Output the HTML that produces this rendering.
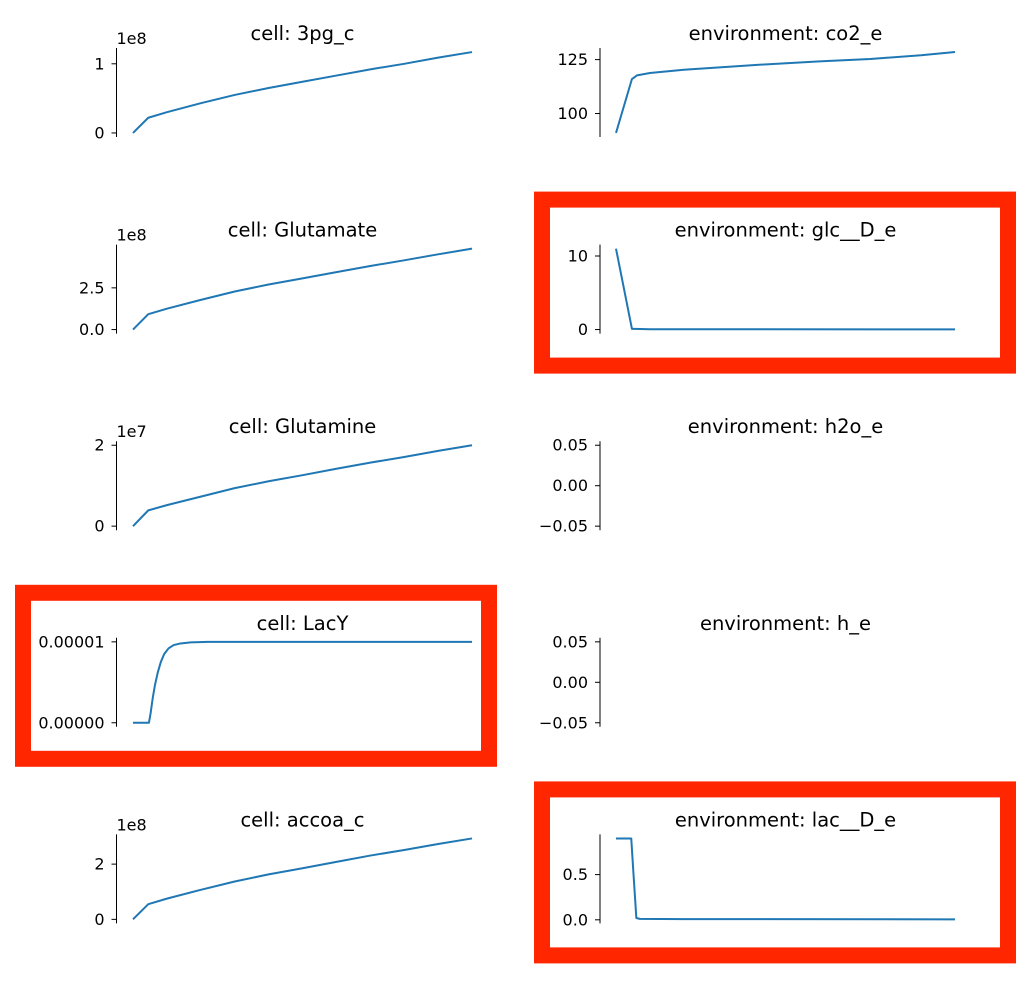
<!DOCTYPE html>
<html><head><meta charset="utf-8"><style>
body{margin:0;background:#fff;}
svg{display:block;font-family:"DejaVu Sans","Liberation Sans",sans-serif;}
</style></head><body>
<svg id="fig" width="1031" height="993" viewBox="0 0 1031 993"></svg>
<script>
const NS='http://www.w3.org/2000/svg';
// shared normalized time points
const tCell=[0,0.045,0.1,0.2,0.3,0.4,0.5,0.6,0.7,0.8,0.9,1];
const v3pg=[0,0.22,0.30,0.43,0.55,0.65,0.74,0.83,0.92,1.0,1.09,1.17];
const vGlutamate=[0,0.92,1.25,1.78,2.28,2.70,3.07,3.44,3.81,4.15,4.51,4.85];
const vGlutamine=[0,0.39,0.52,0.73,0.94,1.11,1.26,1.42,1.57,1.71,1.86,2.0];
const vAccoa=[0,0.55,0.75,1.07,1.37,1.63,1.85,2.08,2.31,2.51,2.73,2.93];
const tLacY=[0,0.047,0.052,0.058,0.065,0.073,0.082,0.092,0.105,0.12,0.14,0.17,0.22,0.3,1];
const vLacY=[0,0,0.12e-5,0.3e-5,0.47e-5,0.62e-5,0.75e-5,0.85e-5,0.92e-5,0.96e-5,0.98e-5,0.993e-5,1e-5,1e-5,1e-5];
const tCo2=[0,0.047,0.062,0.1,0.2,0.4,0.6,0.75,0.9,1];
const vCo2=[91,116,117.7,118.8,120.3,122.4,124.2,125.3,127.0,128.5];
const tGlc=[0,0.047,0.1,1];
const vGlc=[11,0.1,0.05,0.02];
const tLac=[0,0.045,0.05,0.06,0.07,0.2,1];
const vLac=[0.9,0.9,0.6,0.02,0.01,0.008,0.005];
const tEmpty=[];
const vEmpty=[];

const panels=[
 {name:'cell: 3pg_c',col:0,row:0,t:tCell,v:v3pg,ymin:0,ymax:1.17,ticks:[0,1],labels:['0','1'],off:'1e8'},
 {name:'environment: co2_e',col:1,row:0,t:tCo2,v:vCo2,ymin:91,ymax:128.5,ticks:[100,125],labels:['100','125']},
 {name:'cell: Glutamate',col:0,row:1,t:tCell,v:vGlutamate,ymin:0,ymax:4.85,ticks:[0,2.5],labels:['0.0','2.5'],off:'1e8'},
 {name:'environment: glc__D_e',col:1,row:1,t:tGlc,v:vGlc,ymin:0,ymax:11,ticks:[0,10],labels:['0','10'],box:true},
 {name:'cell: Glutamine',col:0,row:2,t:tCell,v:vGlutamine,ymin:0,ymax:2.0,ticks:[0,2],labels:['0','2'],off:'1e7'},
 {name:'environment: h2o_e',col:1,row:2,t:tEmpty,v:vEmpty,ymin:-0.05,ymax:0.05,ticks:[-0.05,0,0.05],labels:['\u22120.05','0.00','0.05']},
 {name:'cell: LacY',col:0,row:3,t:tLacY,v:vLacY,ymin:0,ymax:1e-5,ticks:[0,1e-5],labels:['0.00000','0.00001'],box:true},
 {name:'environment: h_e',col:1,row:3,t:tEmpty,v:vEmpty,ymin:-0.05,ymax:0.05,ticks:[-0.05,0,0.05],labels:['\u22120.05','0.00','0.05']},
 {name:'cell: accoa_c',col:0,row:4,t:tCell,v:vAccoa,ymin:0,ymax:2.93,ticks:[0,2],labels:['0','2'],off:'1e8'},
 {name:'environment: lac__D_e',col:1,row:4,t:tLac,v:vLac,ymin:0.005,ymax:0.9,ticks:[0,0.5],labels:['0.0','0.5'],box:true}
];
const svg=document.getElementById('fig');
function el(tag,attrs,parent){const e=document.createElementNS(NS,tag);for(const k in attrs)e.setAttribute(k,attrs[k]);(parent||svg).appendChild(e);return e;}

panels.forEach(p=>{
  const spineX=p.col?600:116.5;
  const x0=p.col?616:133, x1=p.col?955:472;
  const top=48+196.6*p.row, bot=top+89;
  const slug=p.name.replace(/[^a-zA-Z0-9]+/g,'-').toLowerCase();
  const g=el('g',{});
  
  
  if(p.box){
    const bx=p.col?534:15, by=top-53;
    const r=el('rect',{x:bx+8,y:by+8,width:466,height:166,fill:'none',stroke:'#ff2600','stroke-width':16},g);
    
    
  }
  const range=p.ymax-p.ymin;
  const lo=p.ymin-0.05*range, hi=p.ymax+0.05*range;
  const yS=v=>bot-(v-lo)/(hi-lo)*(bot-top);
  const xS=t=>x0+t*(x1-x0);
  const title=el('text',{x:(x0+x1)/2,y:top-8,'text-anchor':'middle','font-size':'19.5px',fill:'#000'},g);
  title.textContent=p.name;
  
  
  const sp=el('line',{x1:spineX,x2:spineX,y1:top,y2:bot,stroke:'#000','stroke-width':1},g);
  
  
  p.ticks.forEach((tv,i)=>{
    const y=yS(tv);
    const tk=el('line',{x1:spineX-5,x2:spineX,y1:y,y2:y,stroke:'#000','stroke-width':1},g);
    
    
    const lb=el('text',{x:spineX-12,y:y+5.5,'text-anchor':'end','font-size':'16px',fill:'#000'},g);
    lb.textContent=p.labels[i];
    
    
  });
  if(p.off){
    const o=el('text',{x:spineX,y:top-4,'font-size':'16px',fill:'#000'},g);
    o.textContent=p.off;
    
    
  }
  if(p.t.length){
    let d='';
    p.t.forEach((t,i)=>{d+=(i?'L':'M')+xS(t).toFixed(2)+','+yS(p.v[i]).toFixed(2);});
    const path=el('path',{d:d,fill:'none',stroke:'#1f77b4','stroke-width':2,'stroke-linejoin':'round'},g);
    
    
  }
});
</script>
</body></html>
